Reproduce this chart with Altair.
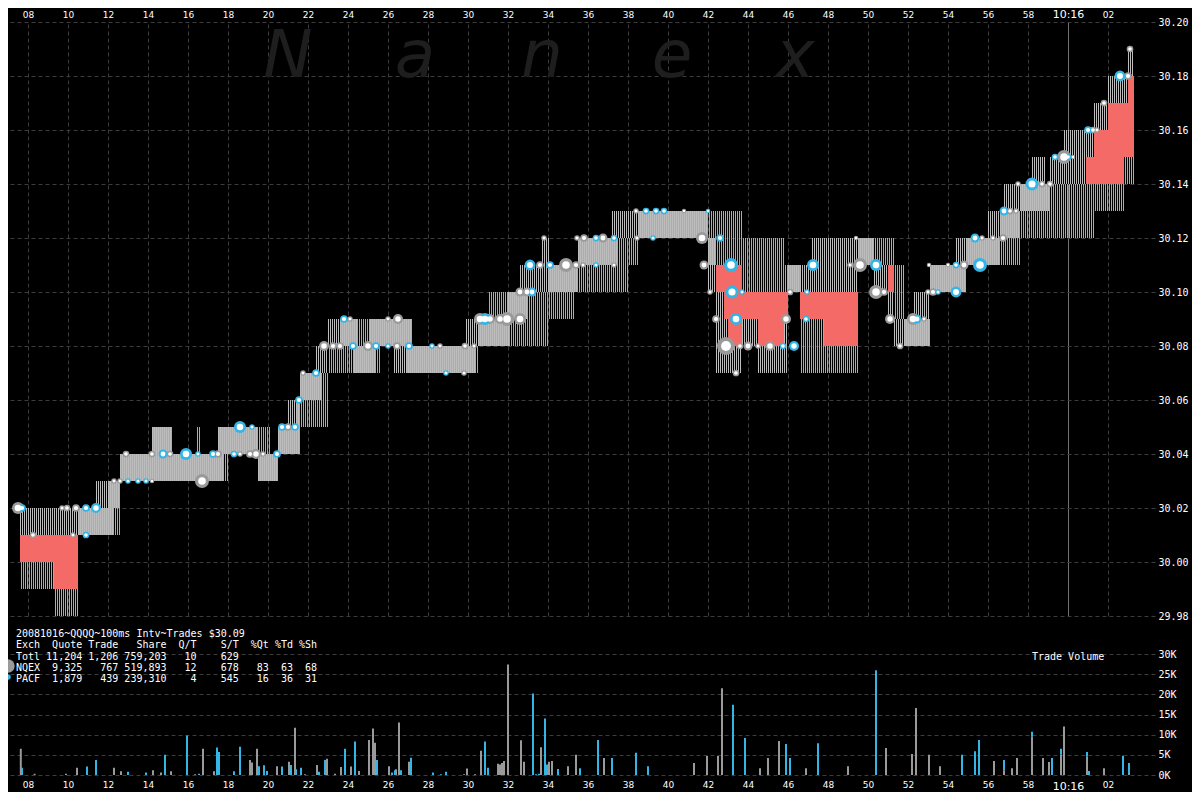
import altair as alt
import numpy as np
import pandas as pd

# ---------------- data (time = seconds after 10:15:00) ----------------
# NQEX quote change points
nq_t = [7.6, 11.4, 12.3, 12.6, 14.2, 15.2, 17.5, 17.8, 19.5, 20.5, 21.0, 21.55, 22.4, 22.7, 22.95,
        24.25, 24.45, 25.1, 25.4, 26.25, 27.2, 29.9, 30.35, 31.95, 32.1, 32.6, 33.0, 33.7, 34.1,
        35.45, 37.2, 37.45, 41.95, 42.4, 42.75, 43.0, 43.7, 44.5, 45.8, 46.0, 47.2, 49.5, 50.25,
        51.0, 51.3, 52.25, 53.05, 54.4, 54.85, 56.0, 56.6, 56.75, 57.6, 58.2, 58.85, 59.1, 59.8,
        60.9, 61.3, 61.95, 63.0]
nq_bid = [30.01, 30.01, 30.02, 30.03, 30.03, 30.03, 30.03, 30.04, 30.03, 30.04, 30.04, 30.06, 30.06, 30.07, 30.08,
          30.07, 30.07, 30.07, 30.08, 30.07, 30.07, 30.07, 30.08, 30.08, 30.09, 30.09, 30.10, 30.10, 30.10,
          30.11, 30.11, 30.12, 30.10, 30.07, 30.07, 30.07, 30.08, 30.07, 30.07, 30.10, 30.10, 30.11, 30.10,
          30.09, 30.08, 30.08, 30.10, 30.10, 30.11, 30.11, 30.12, 30.12, 30.13, 30.13, 30.13, 30.14, 30.14,
          30.15, 30.16, 30.17, 30.18]
nq_ask = [30.02, 30.03, 30.03, 30.04, 30.05, 30.04, 30.05, 30.05, 30.04, 30.05, 30.06, 30.07, 30.08, 30.08, 30.09,
          30.09, 30.08, 30.09, 30.09, 30.09, 30.08, 30.09, 30.09, 30.10, 30.10, 30.11, 30.11, 30.12, 30.11,
          30.12, 30.13, 30.13, 30.12, 30.10, 30.09, 30.08, 30.09, 30.08, 30.09, 30.11, 30.12, 30.12, 30.11,
          30.10, 30.09, 30.10, 30.11, 30.12, 30.12, 30.13, 30.13, 30.14, 30.14, 30.15, 30.14, 30.15, 30.16,
          30.16, 30.17, 30.18, 30.19]

# PACF quote change points
pa_t = [7.6, 9.25, 10.45, 11.95, 12.6, 14.2, 15.2, 16.35, 16.6, 17.5, 18.0, 19.5, 20.1, 20.5, 21.35,
        21.6, 22.95, 23.6, 25.6, 26.85, 27.2, 30.5, 30.95, 34.0, 35.25, 35.45, 38.0, 38.5, 41.95,
        43.7, 45.8, 46.6, 47.75, 49.5, 51.3, 51.75, 53.05, 54.85, 56.6, 57.6, 61.25, 62.75]
pa_bid = [29.99, 29.98, 30.01, 30.01, 30.03, 30.03, 30.03, 30.03, 30.03, 30.03, 30.04, 30.03, 30.03, 30.04, 30.04,
          30.05, 30.07, 30.07, 30.08, 30.07, 30.07, 30.08, 30.08, 30.09, 30.10, 30.10, 30.11, 30.12, 30.11,
          30.10, 30.10, 30.07, 30.07, 30.11, 30.09, 30.08, 30.10, 30.11, 30.11, 30.12, 30.13, 30.14]
pa_ask = [30.00, 29.99, 30.02, 30.03, 30.04, 30.05, 30.04, 30.05, 30.04, 30.05, 30.05, 30.05, 30.04, 30.05, 30.06,
          30.07, 30.08, 30.09, 30.09, 30.09, 30.08, 30.09, 30.10, 30.11, 30.11, 30.12, 30.12, 30.13, 30.13,
          30.12, 30.11, 30.09, 30.08, 30.12, 30.11, 30.09, 30.11, 30.12, 30.13, 30.14, 30.14, 30.15]
quote_end = 63.25

# NQEX trades: time, price, shares
nq_tr_t = [7.5, 8.25, 9.7, 9.95, 10.25, 10.4, 12.3, 12.6, 14.2, 12.9, 14.2, 15.1, 16.7, 17.5, 18.6,
           19.1, 19.4, 19.75, 21.0, 21.75, 22.8, 23.25, 23.6, 24.1, 25.0, 26.45, 26.0, 26.5, 28.6,
           29.8, 29.85, 30.3, 30.6, 31.1, 31.6, 31.95, 32.6, 32.6, 32.95, 33.6, 34.9, 35.4, 33.8,
           35.45, 35.8, 36.75, 35.75, 37.3, 38.45, 38.4, 40.8, 41.7, 41.8, 42.1, 42.4, 42.9, 43.6,
           44.0, 44.5, 45.1, 43.4, 45.9, 46.1, 49.1, 49.6, 49.4, 50.4, 50.8, 51.1, 51.6, 52.25,
           52.8, 53.0, 53.25, 53.05, 54.0, 54.8, 55.7, 56.25, 56.75, 57.1, 57.4, 57.5, 58.7, 59.1,
           59.8, 60.25, 61.25, 61.45, 61.8, 63.0, 63.1]
nq_tr_px = [30.02, 30.01, 30.02, 30.02, 30.01, 30.02, 30.03, 30.03, 30.03, 30.04, 30.04, 30.04, 30.03, 30.04, 30.04,
            30.04, 30.04, 30.04, 30.05, 30.07, 30.08, 30.08, 30.08, 30.09, 30.08, 30.08, 30.09, 30.09, 30.08,
            30.07, 30.08, 30.08, 30.09, 30.09, 30.09, 30.09, 30.09, 30.10, 30.10, 30.11, 30.11, 30.11, 30.12,
            30.12, 30.12, 30.12, 30.11, 30.11, 30.12, 30.13, 30.13, 30.12, 30.11, 30.10, 30.09, 30.08, 30.08,
            30.08, 30.08, 30.08, 30.07, 30.09, 30.10, 30.11, 30.11, 30.12, 30.10, 30.10, 30.09, 30.08, 30.09,
            30.09, 30.10, 30.10, 30.11, 30.11, 30.11, 30.12, 30.12, 30.12, 30.13, 30.13, 30.14, 30.14, 30.14,
            30.15, 30.15, 30.16, 30.16, 30.17, 30.18, 30.19]
nq_tr_sh = [2900, 900, 600, 900, 600, 1200, 600, 600, 400, 900, 900, 900, 3900, 1200, 600,
            1200, 2000, 600, 1200, 600, 2000, 1200, 1200, 600, 2000, 1200, 600, 2000, 600,
            600, 900, 600, 2900, 2000, 2000, 3900, 2900, 1600, 1600, 1200, 3900, 1200, 600,
            600, 1200, 1600, 600, 600, 600, 600, 400, 2900, 1600, 600, 1200, 6500, 900,
            1600, 600, 2000, 900, 2000, 900, 600, 3900, 400, 3900, 1200, 2000, 900, 2900,
            600, 600, 1200, 400, 400, 1600, 600, 600, 1200, 900, 600, 600, 900, 900,
            3900, 400, 900, 600, 900, 1200, 900]

# PACF trades: time, price, shares
pa_tr_t = [7.7, 10.9, 10.9, 11.4, 13.0, 13.5, 13.9, 14.75, 15.9, 16.5, 17.25, 18.3, 20.45, 18.6, 19.2,
           20.7, 21.35, 21.55, 22.4, 23.8, 24.25, 25.4, 26.0, 27.05, 28.2, 28.9, 30.85, 33.2, 33.1,
           34.1, 36.4, 37.3, 36.4, 39.25, 38.9, 39.4, 39.8, 42.0, 42.6, 43.15, 43.2, 43.7, 43.4,
           45.75, 46.3, 46.9, 46.95, 47.25, 50.4, 52.45, 53.5, 54.4, 54.4, 55.6, 55.35, 56.8, 58.2,
           59.35, 60.0, 61.0, 62.6]
pa_tr_px = [30.02, 30.02, 30.01, 30.02, 30.03, 30.03, 30.03, 30.04, 30.04, 30.04, 30.04, 30.04, 30.04, 30.05, 30.05,
            30.05, 30.05, 30.06, 30.07, 30.09, 30.08, 30.08, 30.08, 30.08, 30.08, 30.07, 30.09, 30.10, 30.11,
            30.11, 30.12, 30.12, 30.11, 30.12, 30.13, 30.13, 30.13, 30.13, 30.12, 30.11, 30.10, 30.10, 30.09,
            30.08, 30.08, 30.09, 30.10, 30.11, 30.11, 30.09, 30.10, 30.10, 30.11, 30.11, 30.12, 30.13, 30.14,
            30.15, 30.15, 30.16, 30.18]
pa_tr_sh = [1200, 1200, 900, 2000, 600, 600, 600, 1600, 2900, 600, 1200, 900, 1200, 2900, 600,
            1200, 1200, 1200, 1200, 1200, 1200, 1200, 600, 1200, 600, 600, 2900, 1600, 2400,
            1200, 900, 900, 600, 600, 900, 900, 900, 400, 1200, 3900, 3400, 600, 2900,
            900, 2000, 900, 600, 2900, 2900, 1600, 600, 2400, 900, 3900, 1600, 1600, 3400,
            900, 900, 1200, 2400]

# trade volume per 100ms interval, by exchange
nq_vol_t = [7.64, 8.33, 9.9, 10.45, 12.3, 12.65, 14.25, 14.65, 15.15, 16.35, 16.75, 17.3, 19.1, 19.2,
            19.45, 20.45, 21.05, 21.35, 21.85, 22.45, 22.95, 23.35, 23.65, 24.15, 24.55, 25.05, 25.25,
            25.35, 26.05, 26.4, 26.55, 27.05, 29.8, 29.95, 30.35, 30.65, 31.5, 31.6, 31.7, 31.8, 32.0,
            32.65, 32.8, 33.65, 34.05, 34.2, 35.0, 35.4, 36.8, 41.3, 41.95, 42.5, 42.7, 44.6, 45.0,
            45.55, 46.9, 49.0, 50.9, 52.2, 52.4, 53.05, 53.6, 56.3, 56.8, 57.2, 57.45, 58.2, 58.75,
            59.05, 59.65, 59.8, 60.95, 61.8, 63.05]
nq_vol_sh = [6500, 300, 300, 1800, 1800, 900, 1200, 600, 900, 200, 6500, 900, 3700, 3100,
             6500, 2200, 3300, 11700, 200, 2500, 4000, 300, 2000, 2100, 1000, 8700, 11500,
             8000, 2200, 1400, 13000, 3300, 200, 1600, 200, 6000, 2800, 2600, 3000, 3500, 27400,
             8600, 3300, 6900, 3300, 3500, 2200, 5000, 4200, 3000, 4700, 4700, 21500, 1700, 4200,
             8400, 1700, 2200, 6700, 5200, 16600, 5000, 2200, 3500, 1200, 1700, 4200, 9500, 4200,
             3200, 5000, 12000, 4500, 1700, 500]
pa_vol_t = [7.7, 10.95, 11.4, 13.0, 13.9, 14.85, 15.95, 16.55, 17.45, 17.55, 18.3, 18.6, 19.55, 19.8,
            19.95, 20.7, 21.15, 21.4, 21.65, 22.55, 22.85, 23.85, 24.35, 25.45, 26.2, 26.35, 26.65,
            27.15, 28.25, 28.65, 28.9, 30.85, 31.0, 33.25, 33.4, 33.55, 33.85, 33.95, 34.5, 35.6,
            36.5, 37.2, 38.4, 39.0, 43.25, 43.85, 45.9, 46.1, 47.5, 50.4, 54.7, 55.35, 55.55, 56.8,
            58.2, 59.2, 59.65, 60.95, 61.05, 62.75, 63.05]
pa_vol_sh = [1800, 2100, 3700, 800, 600, 5000, 9800, 300, 6800, 5700, 900, 7000, 2200, 2400,
             1000, 2100, 2500, 1400, 1800, 800, 3700, 6500, 8300, 3700, 600, 1200, 1200,
             4300, 600, 200, 800, 8300, 1800, 20200, 200, 300, 14000, 2600, 1500, 1700,
             8700, 4200, 5500, 2200, 17400, 9200, 7700, 4200, 7900, 26000, 5000, 5900, 8700, 2500,
             1200, 4200, 1500, 1200, 1000, 4800, 2500]

time_ticks = list(range(8, 63, 2))
price_ticks = [29.98, 30.00, 30.02, 30.04, 30.06, 30.08, 30.10, 30.12, 30.14, 30.16, 30.18, 30.20]
vol_ticks = [0, 5000, 10000, 15000, 20000, 25000, 30000]

legend_lines = [
    "20081016~QQQQ~100ms Intv~Trades $30.09",
    "Exch  Quote Trade   Share  Q/T    S/T  %Qt %Td %Sh",
    "Totl 11,204 1,206 759,203   10    629",
    "NQEX  9,325   767 519,893   12    678   83  63  68",
    "PACF  1,879   439 239,310    4    545   16  36  31",
]
watermark = ["N", "a", "n", "e", "x"]
watermark_t = [21.0, 27.35, 33.7, 40.2, 46.35]

# ---------------- build tables ----------------
ts = np.round(np.arange(7.6, quote_end - 1e-9, 0.1), 2)


def expand(ct, bid, ask):
    idx = np.searchsorted(np.array(ct), ts + 1e-6, side="right") - 1
    return np.array(bid)[idx], np.array(ask)[idx]


nb, na = expand(nq_t, nq_bid, nq_ask)
pb, pa = expand(pa_t, pa_bid, pa_ask)

nq_quotes = pd.DataFrame({"t0": ts, "t1": np.round(ts + 0.05, 3), "lo": nb, "hi": na})
pa_quotes = pd.DataFrame({"t0": np.round(ts + 0.05, 3), "t1": np.round(ts + 0.1, 3), "lo": pb, "hi": pa})
lo = np.minimum(na, pa)
hi = np.maximum(nb, pb)
crossed = hi > lo + 1e-6
red = pd.DataFrame({"t0": ts[crossed], "t1": np.round(ts[crossed] + 0.1, 3),
                    "lo": lo[crossed], "hi": hi[crossed]})

nq_trades = pd.DataFrame({"t": nq_tr_t, "price": nq_tr_px, "shares": nq_tr_sh})
pa_trades = pd.DataFrame({"t": pa_tr_t, "price": pa_tr_px, "shares": pa_tr_sh})
trades_all = pd.concat([nq_trades, pa_trades], ignore_index=True)
vol = pd.concat([
    pd.DataFrame({"t": nq_vol_t, "shares": nq_vol_sh, "exch": "NQEX", "ord": 0}),
    pd.DataFrame({"t": pa_vol_t, "shares": pa_vol_sh, "exch": "PACF", "ord": 1}),
], ignore_index=True)
NBSP = "\u00a0"
legend_df = pd.DataFrame({"line": [s.replace(" ", NBSP) for s in legend_lines],
                          "ypos": [614, 625, 637, 648, 659]})
wm_df = pd.DataFrame({"ch": watermark, "t": watermark_t})

# ---------------- colours ----------------
NQ_STRIPE, PA_STRIPE = "#BDBDBD", "#5CC8EC"
NQ_TRADE, PA_TRADE = "#9A9A9A", "#33B5E5"
RED = "#F46A66"

# ---------------- scales / axes ----------------
W, H = 1147, 758
xscale = alt.Scale(domain=[7.0, 64.35], nice=False, zero=False, padding=0)
pscale = alt.Scale(domain=[29.98, 30.20], range=[596, 2], nice=False, zero=False)
vscale = alt.Scale(domain=[0, 30000], range=[755, 634], nice=False)
vol_col = alt.Scale(domain=["NQEX", "PACF"], range=[NQ_TRADE, PA_TRADE])
size_scale = alt.Scale(domain=[0, 6500], range=[0, 324])

label_expr = ("datum.value == 60 ? '10:16' : "
              "((datum.value % 60) < 10 ? '0' : '') + (datum.value % 60)")
cond_test = "datum.value == 60"
top_axis = alt.Axis(
    orient="top", values=time_ticks, labelExpr=label_expr, title=None,
    domain=False, ticks=False, labelColor="white", labelFont="DejaVu Sans",
    labelFontSize={"condition": {"test": cond_test, "value": 11}, "value": 9},
    labelPadding=1, labelFlush=False,
    grid=True,
    gridColor={"condition": {"test": cond_test, "value": "#707070"}, "value": "#3c3c3c"},
    gridDash={"condition": {"test": cond_test, "value": []}, "value": [4, 3]},
)
bottom_axis = alt.Axis(
    orient="bottom", values=time_ticks, labelExpr=label_expr, title=None,
    domain=False, ticks=False, labelColor="white", labelFont="DejaVu Sans",
    labelFontSize={"condition": {"test": cond_test, "value": 11}, "value": 9},
    labelPadding=2, labelFlush=False, grid=False,
)
price_axis = alt.Axis(
    orient="right", values=price_ticks, format=".2f", title=None, domain=False, ticks=False,
    labelColor="white", labelFont="DejaVu Sans Mono", labelFontSize=10, labelPadding=3,
    labelAlign="left", labelBaseline="middle", grid=True, gridColor="#3c3c3c", gridDash=[4, 3],
)
vol_axis = alt.Axis(
    orient="right", values=vol_ticks, labelExpr="(datum.value / 1000) + 'K'", title=None,
    domain=False, ticks=False, labelColor="white", labelFont="DejaVu Sans Mono", labelFontSize=10,
    labelPadding=3, labelAlign="left", labelBaseline="middle", grid=True, gridColor="#3c3c3c",
    gridDash=[4, 3],
)

# ---------------- layers ----------------
wm_layer = alt.Chart(wm_df).mark_text(
    font="DejaVu Sans", fontSize=66, fontStyle="italic", color="#1e1e1e",
    align="center", baseline="alphabetic",
).encode(x=alt.X("t:Q", scale=xscale, axis=None), y=alt.value(57), text="ch:N")


def quote_layer(df, colour, with_axes):
    return alt.Chart(df).mark_rect(color=colour, fill=colour, strokeWidth=0).encode(
        x=alt.X("t0:Q", scale=xscale, axis=top_axis if with_axes else None),
        x2="t1:Q",
        y=alt.Y("lo:Q", scale=pscale, axis=price_axis if with_axes else None),
        y2="hi:Q",
    )


nq_layer = quote_layer(nq_quotes, NQ_STRIPE, True)
pa_layer = quote_layer(pa_quotes, PA_STRIPE, False)

red_layer = alt.Chart(red).mark_rect(color=RED, fill=RED, strokeWidth=0).encode(
    x=alt.X("t0:Q", scale=xscale, axis=None),
    x2="t1:Q",
    y=alt.Y("lo:Q", scale=pscale, axis=None),
    y2="hi:Q",
)


def trade_layer(df, colour):
    return alt.Chart(df).mark_circle(opacity=1, color=colour).encode(
        x=alt.X("t:Q", scale=xscale, axis=None),
        y=alt.Y("price:Q", scale=pscale, axis=None),
        size=alt.Size("shares:Q", scale=size_scale, legend=None),
    )


nq_tr_layer = trade_layer(nq_trades, NQ_TRADE)
pa_tr_layer = trade_layer(pa_trades, PA_TRADE)
trade_inner = alt.Chart(trades_all).transform_calculate(inner="datum.shares * 0.3").mark_circle(
    opacity=1, color="white"
).encode(
    x=alt.X("t:Q", scale=xscale, axis=None),
    y=alt.Y("price:Q", scale=pscale, axis=None),
    size=alt.Size("inner:Q", scale=size_scale, legend=None),
)

vol_layer = alt.Chart(vol).mark_bar(size=2).encode(
    x=alt.X("t:Q", scale=xscale, axis=bottom_axis),
    y=alt.Y("shares:Q", scale=vscale, axis=vol_axis, stack="zero"),
    color=alt.Color("exch:N", scale=vol_col, legend=None),
    order=alt.Order("ord:Q"),
)

legend_text = alt.Chart(legend_df).mark_text(
    font="DejaVu Sans Mono", fontSize=10, color="white", align="left", baseline="middle"
).encode(x=alt.value(8), y=alt.Y("ypos:Q", scale=None, axis=None), text="line:N")

leg_gray = alt.Chart(pd.DataFrame({"e": ["NQEX"]})).mark_circle(
    color=NQ_TRADE, opacity=1, size=180
).encode(x=alt.value(0), y=alt.value(646))
leg_blue = alt.Chart(pd.DataFrame({"e": ["PACF"]})).mark_circle(
    color=PA_TRADE, opacity=1, size=30
).encode(x=alt.value(0), y=alt.value(657))

vol_title = alt.Chart(pd.DataFrame({"s": ["Trade Volume"]})).mark_text(
    font="DejaVu Sans Mono", fontSize=10, color="white", align="left", baseline="middle"
).encode(x=alt.value(1024), y=alt.value(637), text="s:N")

chart = alt.layer(
    wm_layer, nq_layer, pa_layer, red_layer, nq_tr_layer, pa_tr_layer, trade_inner, vol_layer,
    legend_text, leg_gray, leg_blue, vol_title,
).resolve_scale(y="independent", color="independent").resolve_axis(x="independent").properties(
    width=W, height=H, background="black",
    padding={"left": 0, "top": 12, "right": 37, "bottom": 14},
    autosize=alt.AutoSizeParams(type="none"),
).configure_view(stroke=None)

chart.save("out.html", embed_options={"renderer": "svg", "actions": False})
